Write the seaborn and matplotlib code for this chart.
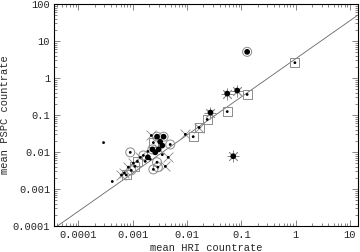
import numpy as np
import matplotlib
matplotlib.use("Agg")
import matplotlib.pyplot as plt
import matplotlib.ticker as mticker
import seaborn as sns

# --- data: mean count rates per source (HRI vs PSPC) ---
hri_rate = [0.128, 0.97, 0.055, 0.084, 0.128, 0.055, 0.027, 0.0235, 0.0167, 0.0093,
            0.0130, 0.071, 0.00029, 0.00042,
            0.0022, 0.0028, 0.0037, 0.0032, 0.0035, 0.0049, 0.0026, 0.0023, 0.0030, 0.0019,
            0.00090, 0.00157, 0.00138, 0.0045, 0.00122, 0.00103, 0.00083, 0.00094, 0.00070,
            0.00062, 0.00076, 0.0024, 0.0029, 0.0028, 0.0040, 0.0021, 0.0017, 0.0011,
            0.0035, 0.0024, 0.0019]
pspc_rate = [5.1, 2.6, 0.38, 0.46, 0.36, 0.124, 0.117, 0.076, 0.046, 0.030,
             0.026, 0.0077, 0.018, 0.0016,
             0.028, 0.026, 0.026, 0.019, 0.015, 0.016, 0.0098, 0.0118, 0.0118, 0.0104,
             0.0098, 0.0081, 0.0072, 0.0072, 0.0056, 0.0050, 0.0039, 0.0032, 0.0027,
             0.0024, 0.0024, 0.0034, 0.0039, 0.0053, 0.0041, 0.0064, 0.0056, 0.0041,
             0.0085, 0.018, 0.0072]
core = ["big", "dot", "big", "big", "dot", "dot", "big", "dot", "dot", "dot",
        "dot", "big", "dot", "dot",
        "dot", "big", "big", "big", "big", "dot", "big", "big", "big", "dot",
        "dot", "dot", "dot", "dot", "dot", "dot", "dot", "dot", "dot",
        "dot", "dot", "dot", "dot", "dot", "dot", "dot", "dot", "dot",
        "dot", "dot", "big"]
frame = ["ring", "square", "burst", "burst", "square", "square", "burst", "square", "square x", "x",
         "square", "burst", "", "",
         "x", "ring", "ring", "", "", "ring", "", "ring", "x", "",
         "ring", "ring", "x", "x", "square", "x", "x", "ring", "x",
         "x", "square", "ring", "ring", "ring", "x", "", "", "square",
         "", "square", ""]

# fitted relation: log(PSPC) = FIT_A + FIT_B * log(HRI)
FIT_A = 0.52
FIT_B = 1.03

XLIM = (3.6e-5, 14)
YLIM = (1e-4, 100)

sns.set_style("ticks")
plt.rcParams["font.family"] = ["Liberation Mono", "DejaVu Sans Mono"]

fig = plt.figure(figsize=(3.6, 2.52), dpi=100)
ax = fig.add_axes([0.151, 0.103, 0.843, 0.881])
ax.set_xscale("log")
ax.set_yscale("log")

x = np.array(hri_rate)
y = np.array(pspc_rate)
is_big = np.array([c == "big" for c in core])

# relation line
lx = np.array(XLIM)
sns.lineplot(x=lx, y=10 ** (FIT_A + FIT_B * np.log10(lx)), ax=ax,
             color="0.4", linewidth=0.6)

gray = "0.55"
for name, mk, size in [("ring", "o", 42), ("square", "s", 42)]:
    sel = np.array([name in f.split() for f in frame])
    sns.scatterplot(x=x[sel], y=y[sel], ax=ax, marker=mk, s=size, color=gray,
                    facecolor="none", edgecolor=gray, linewidth=0.7, zorder=3)
for name, mk, size in [("x", "x", 50), ("burst", (8, 2, 0), 64)]:
    sel = np.array([name in f.split() for f in frame])
    sns.scatterplot(x=x[sel], y=y[sel], ax=ax, marker=mk, s=size, color=gray,
                    linewidth=0.6, zorder=3)

sns.scatterplot(x=x[~is_big], y=y[~is_big], ax=ax, marker="o", s=4, color="black",
                edgecolor="none", zorder=4)
sns.scatterplot(x=x[is_big], y=y[is_big], ax=ax, marker="o", s=17, color="black",
                edgecolor="none", zorder=4)

ax.set_xlim(*XLIM)
ax.set_ylim(*YLIM)

fmt = mticker.FuncFormatter(lambda v, p: format(v, "g"))
for axis in (ax.xaxis, ax.yaxis):
    axis.set_major_locator(mticker.LogLocator(base=10, numticks=20))
    axis.set_minor_locator(mticker.LogLocator(base=10, subs=np.arange(2, 10), numticks=20))
    axis.set_major_formatter(fmt)
    axis.set_minor_formatter(mticker.NullFormatter())

ax.tick_params(which="both", direction="in", top=True, right=True, color="0.45", width=0.6)
ax.tick_params(which="major", length=4)
ax.tick_params(which="minor", length=2)
ax.tick_params(axis="x", pad=3, labelsize=7.5)
ax.tick_params(axis="y", pad=3, labelsize=7.5)
for sp in ax.spines.values():
    sp.set_linewidth(0.8)
    sp.set_color("black")

ax.set_xlabel("mean HRI countrate", fontsize=7.5)
ax.set_ylabel("mean PSPC countrate", fontsize=7.5)
ax.xaxis.set_label_coords(0.5, -0.075)
ax.yaxis.set_label_coords(-0.147, 0.5)

fig.savefig("out.png", dpi=100)
